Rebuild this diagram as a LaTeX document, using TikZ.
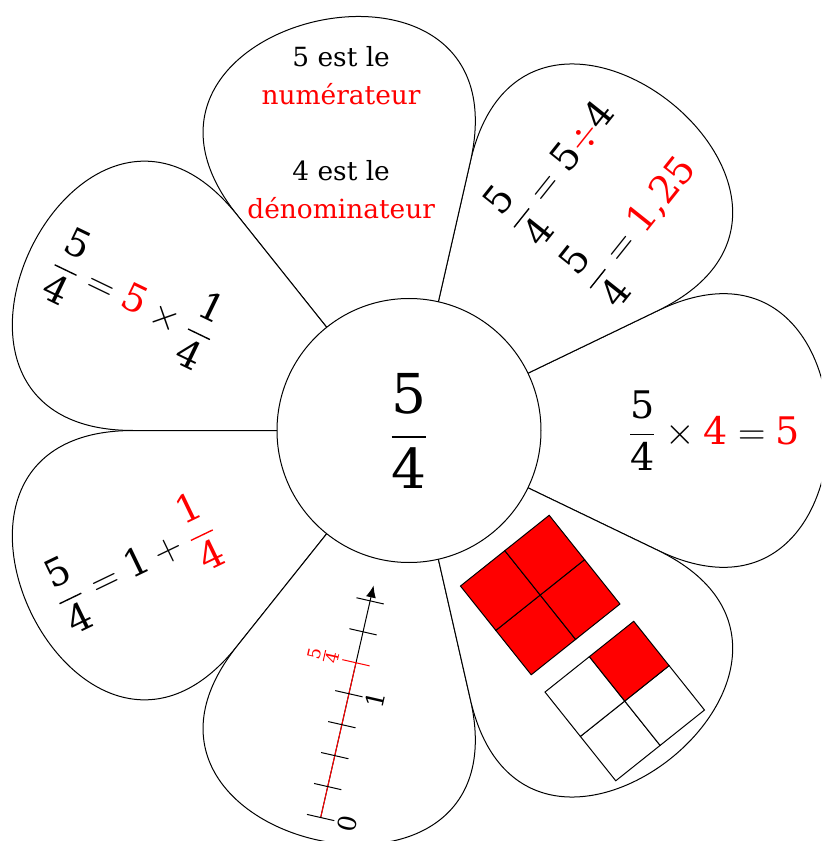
\documentclass[tikz,border=0pt]{standalone}
\usepackage{fix-cm}
\usepackage{amsmath}
\usepackage{fontspec}
\setmainfont{DejaVu Serif}
\usetikzlibrary{arrows.meta}
% digits of the formulas in the main font
\newcommand{\dg}[1]{\text{\rmfamily #1}}
\begin{document}
\begin{tikzpicture}[x=0.5pt,y=0.5pt,line width=0.5pt,
  petal/.style={draw,fill=white},
  mathlbl/.style={font=\rmfamily\fontsize{19}{23}\selectfont,inner sep=0pt},
  txtlbl/.style={font=\fontsize{13.2}{19}\selectfont,align=center},
  ticklbl/.style={font=\fontsize{12.5}{15}\selectfont,inner sep=1.5pt,rotate=540/7},
  cell/.style={draw,fill=white}]
\clip (-409,-410.5) rectangle (412,430.5);
% petals
\foreach \i in {0,...,6}
  \draw[petal] (\i*360/7+180/7:132) -- (\i*360/7+180/7:276)
    .. controls (\i*360/7+180/7:529) and (\i*360/7-180/7:529) .. (\i*360/7-180/7:276)
    -- (\i*360/7-180/7:132);
% heart of the flower
\node[circle,draw,fill=white,minimum size=132pt,inner sep=0pt,font=\rmfamily\fontsize{27.5}{33}\selectfont] (ctr) at (0,0) {$\dfrac{\dg5}{\dg4}$};
% texts of the petals
\node[mathlbl] (prod) at (0:305) {$\dfrac{\dg5}{\dg4}\times{\color{red}\dg4}={\color{red}\dg5}$};
\node[mathlbl,rotate=360/7,align=left] (quot) at (360/7:303)
  {$\dfrac{\dg5}{\dg4}=\dg5{\color{red}\div}\dg4$\\[8pt]$\dfrac{\dg5}{\dg4}={\color{red}\dg{1,25}}$};
\node[txtlbl] (def) at (720/7:305)
  {5 est le\\\textcolor{red}{numérateur}\\[19pt]4 est le\\\textcolor{red}{dénominateur}};
\node[mathlbl,rotate=-180/7] (sum) at (1080/7:305) {$\dfrac{\dg5}{\dg4}={\color{red}\dg5}\times\dfrac{\dg1}{\dg4}$};
\node[mathlbl,rotate=180/7] (mixed) at (1440/7:305) {$\dfrac{\dg5}{\dg4}=\dg1+{\color{red}\dfrac{\dg1}{\dg4}}$};
% number line
\begin{scope}[shift={(1800/7:397)},rotate=540/7]
\coordinate (o) at (0,0);
\coordinate (e) at (238,0);
\coordinate (f) at (158.75,0);
\draw[-{Latex[length=6pt,width=5pt]}] (o) -- (e);
\draw[red] (o) -- (f);
\foreach \k in {0,1,2,3,4,6,7}
  \draw (\k*31.75,-14) -- (\k*31.75,14);
\draw[red] (158.75,-14) -- (158.75,14);
\node[ticklbl,anchor=north] (zero) at (0,-14) {0};
\node[ticklbl,anchor=north] (one) at (127,-14) {1};
\node[ticklbl,anchor=south,text=red] (fivq) at (158.75,14) {$\frac{\dg5}{\dg4}$};
\end{scope}
% squares
\begin{scope}[rotate=270/7]
\foreach \i/\j in {0/0,0/1,1/0,1/1}
  \draw[cell,fill=red] (\i*56.75-56.75,\j*56.75-267.2) rectangle ++(56.75,56.75);
\foreach \i/\j/\c in {0/0/white,0/1/white,1/0/white,1/1/red}
  \draw[cell,fill=\c] (\i*56.75-56.75,\j*56.75-402.8) rectangle ++(56.75,56.75);
\end{scope}
\end{tikzpicture}
\end{document}
